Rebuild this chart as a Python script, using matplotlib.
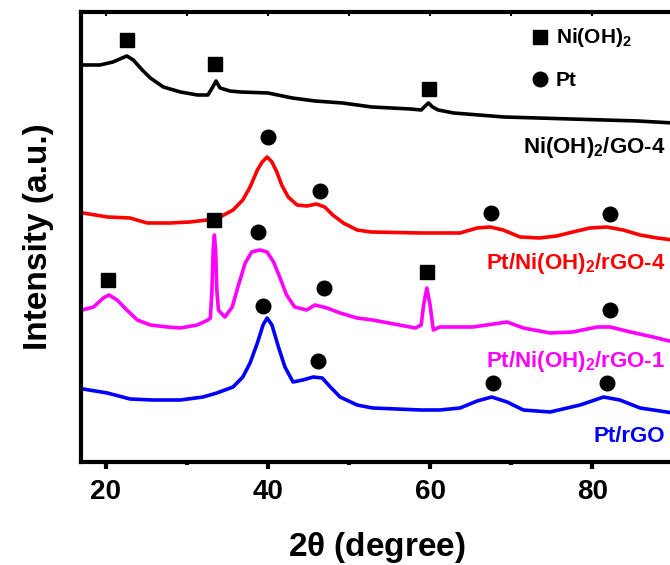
import matplotlib
matplotlib.use('Agg')
import matplotlib.pyplot as plt
from matplotlib.ticker import MultipleLocator

plt.rcParams['font.family'] = ['Liberation Sans', 'DejaVu Sans']
plt.rcParams['font.weight'] = 'bold'
plt.rcParams['mathtext.default'] = 'regular'

# Ni(OH)2/GO-4 (black)
x_ni = [17.2, 19.3, 20.9, 22.6, 23.4, 24.5, 25.5, 27.1, 29.2, 31.3, 32.6, 33.2, 33.6,
        34.1, 35.3, 36.6, 40.0, 43.0, 45.8, 49.2, 52.8, 57.6, 58.9, 59.4, 59.8, 60.3,
        61.0, 62.9, 69.1, 77.3, 85.6, 90.0]
y_ni = [397, 397, 400, 406, 402, 392, 384, 375, 370, 367, 367, 375, 381,
        374, 371, 370, 369, 364, 361, 359, 355, 353, 352, 356, 359, 355,
        352, 349, 345, 343, 341, 339]

# Pt/Ni(OH)2/rGO-4 (red)
x_r4 = [17.2, 20.2, 23.0, 25.1, 27.9, 30.4, 32.5, 34.1, 35.7, 36.9, 37.8, 38.7, 39.3,
        39.9, 40.5, 41.1, 41.7, 42.5, 43.6, 44.8, 46.0, 47.0, 48.0, 49.3, 51.0, 52.7,
        58.9, 61.2, 63.7, 65.8, 67.4, 69.0, 71.1, 73.5, 75.6, 77.6, 79.7, 81.8, 83.8,
        85.9, 88.0, 90.0]
y_r4 = [249, 245, 244, 239, 239, 240, 242, 245, 252, 262, 275, 292, 300,
        305, 300, 290, 277, 265, 257, 256, 258, 255, 247, 239, 232, 230,
        229, 229, 229, 234, 235, 232, 225, 224, 226, 230, 234, 235, 232,
        227, 224, 222]

# Pt/Ni(OH)2/rGO-1 (magenta)
x_r1 = [17.1, 18.5, 19.7, 20.4, 21.4, 22.6, 23.9, 25.5, 27.6, 29.2, 31.3, 32.6, 32.9,
        33.1, 33.25, 33.4, 33.55, 33.7, 33.9, 34.1, 34.7, 35.6, 36.3, 37.2, 38.0, 39.0,
        39.9, 40.7, 41.5, 42.3, 43.3, 44.8, 45.8, 47.3, 48.9, 51.0, 52.9, 58.2, 58.9,
        59.2, 59.6, 60.0, 60.4, 61.2, 65.3, 69.5, 71.5, 74.8, 77.6, 80.6, 82.2, 84.7,
        87.5, 90.0]
y_r1 = [152, 155, 164, 167, 162, 152, 142, 137, 135, 134, 137, 142, 144,
        172, 212, 227, 212, 172, 152, 150, 145, 155, 175, 199, 210, 212,
        210, 200, 184, 167, 155, 152, 157, 154, 149, 144, 142, 134, 137,
        157, 174, 157, 132, 135, 135, 140, 134, 129, 130, 135, 135, 130,
        125, 120]

# Pt/rGO (blue)
x_pt = [17.2, 20.2, 23.0, 25.8, 29.2, 32.0, 33.7, 35.7, 36.9, 37.8, 38.7, 39.4, 39.9,
        40.5, 41.3, 42.1, 43.1, 44.3, 45.6, 46.7, 47.7, 48.9, 51.0, 52.9, 58.9, 61.2,
        63.7, 65.8, 67.6, 69.5, 71.5, 74.8, 78.5, 81.4, 83.4, 85.9, 90.0]
y_pt = [73, 69, 63, 62, 62, 65, 69, 75, 85, 99, 119, 137, 144,
        137, 115, 95, 80, 82, 85, 84, 75, 65, 57, 54, 52, 52,
        54, 61, 65, 60, 52, 50, 57, 65, 62, 54, 49]

# phase markers
sq_x = [22.6, 33.5, 59.9, 20.3, 33.4, 59.6]
sq_y = [422, 398, 373, 182, 242, 190]
ci_x = [40.0, 46.4, 67.5, 82.2, 38.8, 46.9, 82.2, 39.4, 46.2, 67.7, 81.8]
ci_y = [325, 271, 249, 248, 230, 174, 152, 156, 101, 79, 79]

labels = ['Ni(OH)$_2$/GO-4', 'Pt/Ni(OH)$_2$/rGO-4', 'Pt/Ni(OH)$_2$/rGO-1', 'Pt/rGO']
label_y = [309, 193, 95, 20]
colors = ['black', '#ff0000', '#ff00ff', '#0000ff']

fig = plt.figure(figsize=(6.7, 5.65), dpi=100)
ax = fig.add_axes([0.1215, 0.1823, 0.8835, 0.7965])

for xs, ys, c in zip([x_ni, x_r4, x_r1, x_pt], [y_ni, y_r4, y_r1, y_pt], colors):
    ax.plot(xs, ys, color=c, lw=2.6, solid_joinstyle='round')

ax.plot(sq_x, sq_y, 's', color='black', ms=10, ls='none')
ax.plot(ci_x, ci_y, 'o', color='black', ms=10.5, ls='none')

for lab, yy, c in zip(labels, label_y, colors):
    ax.text(89.0, yy, lab, color=c, fontsize=16, fontweight='bold', ha='right', va='baseline')

# legend drawn by hand
ax.plot([73.5], [425], 's', color='black', ms=10)
ax.plot([73.5], [383], 'o', color='black', ms=10.5)
ax.text(75.5, 419, 'Ni(OH)$_2$', fontsize=15, fontweight='bold', va='baseline')
ax.text(75.5, 376, 'Pt', fontsize=15, fontweight='bold', va='baseline')

ax.set_xlim(17, 90)
ax.set_ylim(0, 450)
ax.set_yticks([])
ax.xaxis.set_major_locator(MultipleLocator(20))
ax.xaxis.set_minor_locator(MultipleLocator(10))
ax.tick_params(axis='x', which='major', direction='out', length=5, width=3,
               labelsize=20, pad=7, top=False)
ax.tick_params(axis='x', which='minor', direction='out', length=2, width=3, top=False)
ax.spines['right'].set_visible(False)
for s in ['top', 'left', 'bottom']:
    ax.spines[s].set_linewidth(3)

# small inward ticks along top spine
top = ax.secondary_xaxis('top')
top.xaxis.set_major_locator(MultipleLocator(10))
top.tick_params(direction='in', length=3, width=1.5, labelsize=0, labeltop=False)
top.spines['top'].set_visible(False)

for t in ax.get_xticklabels():
    t.set_fontweight('bold')

ax.set_xlabel(r'2$\theta$ (degree)', fontsize=24, fontweight='bold', labelpad=18)
ax.set_ylabel('Intensity (a.u.)', fontsize=24, fontweight='bold', labelpad=20)

fig.savefig('out.png', dpi=100)
